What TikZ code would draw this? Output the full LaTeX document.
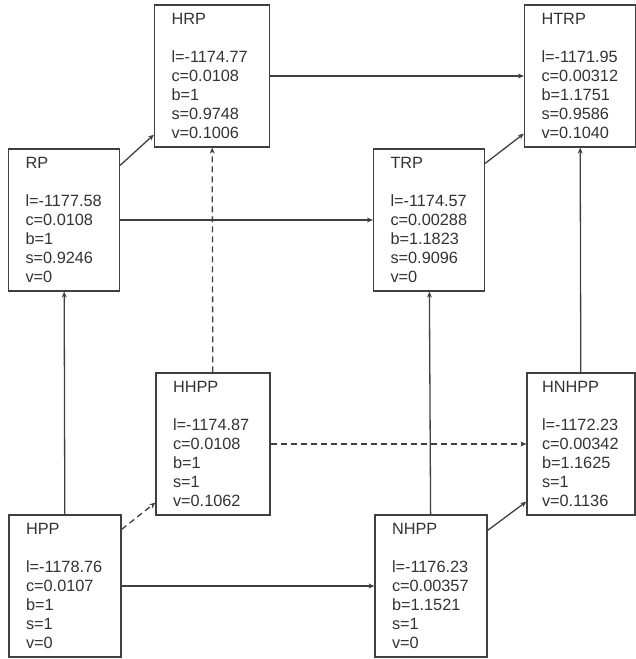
\documentclass[tikz,border=0pt]{standalone}
\usepackage{fontspec}
\setmainfont{Liberation Sans}
\usetikzlibrary{arrows.meta}
\exhyphenpenalty=10000
\hyphenpenalty=10000
\hbadness=10000
\hfuzz=20pt
\tikzset{
  stage/.style={draw=black!75, line width=1.2pt, align=left, text width=78pt,
    inner xsep=17pt, inner ysep=2pt, minimum height=142pt, text=black!80,
    font=\fontsize{16.3}{19}\selectfont},
  link/.style={draw=black!75, line width=1.3pt},
}
\begin{document}
\begin{tikzpicture}[x=1pt,y=-1pt,>={Stealth[length=6pt,width=5pt]}]
      \useasboundingbox (0,0) rectangle (636,659);
      \draw
        (212,76) node[stage,text width=81pt] (HRP){HRP\\[19pt]l=-1174.77\\c=0.0108\\b=1\\s=0.9748\\v=0.1006}
        (580,76) node[stage,text width=77pt] (HTRP){HTRP\\[19pt]l=-1171.95\\c=0.00312\\b=1.1751\\s=0.9586\\v=0.1040}
        (64,220) node[stage,text width=77pt] (RP){RP\\[19pt]l=-1177.58\\c=0.0108\\b=1\\s=0.9246\\v=0}
        (429,220) node[stage,text width=77pt] (TRP){TRP\\[19pt]l=-1174.57\\c=0.00288\\b=1.1823\\s=0.9096\\v=0}
        (213,444) node[stage,text width=80pt] (HHPP){HHPP\\[19pt]l=-1174.87\\c=0.0108\\b=1\\s=1\\v=0.1062}
        (581,444) node[stage,text width=78pt,inner xsep=15pt] (HNHPP){HNHPP\\[19pt]l=-1172.23\\c=0.00342\\b=1.1625\\s=1\\v=0.1136}
        (65,586) node[stage] (HPP){HPP\\[19pt]l=-1178.76\\c=0.0107\\b=1\\s=1\\v=0}
        (431,586) node[stage] (NHPP){NHPP\\[19pt]l=-1176.23\\c=0.00357\\b=1.1521\\s=1\\v=0};
      \begin{scope}[->,link]
        \draw (HRP) to (HTRP);
        \draw (RP) to (TRP);
        \draw (HPP) to (NHPP);
        \draw (HPP) to (RP);
        \draw (NHPP) to (TRP);
        \draw (HNHPP) to (HTRP);
        \draw ([yshift=-17pt]RP.north east) to ([yshift=13pt]HRP.south west);
        \draw ([yshift=-15pt]TRP.north east) to ([yshift=14pt]HTRP.south west);
        \draw ([yshift=-16pt]NHPP.north east) to ([yshift=14pt]HNHPP.south west);
      \end{scope}
      \begin{scope}[->,link,dash pattern=on 6pt off 4pt]
        \draw (HHPP) to (HRP);
        \draw (HHPP) to (HNHPP);
        \draw ([yshift=-15pt]HPP.north east) to ([yshift=13pt]HHPP.south west);
      \end{scope}
    \end{tikzpicture}
\end{document}
